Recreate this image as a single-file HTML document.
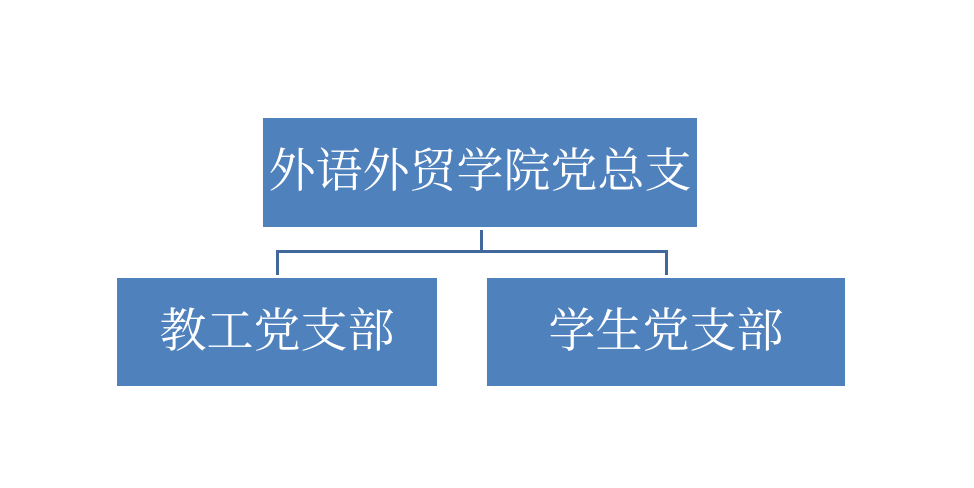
<!DOCTYPE html>
<html><head><meta charset="utf-8"><style>
html,body{margin:0;padding:0;background:#fff;width:974px;height:488px;overflow:hidden}
.b{position:absolute;background:#4F81BD;color:#fff;display:flex;align-items:center;justify-content:center;font-family:"Liberation Serif","Noto Serif CJK SC",serif;font-size:47px;line-height:1;white-space:nowrap}
.l{position:absolute;background:#41689A}
</style></head><body>
<div class="b" style="left:263px;top:118px;width:434px;height:109px;">外语外贸学院党总支</div>
<div class="b" style="left:117px;top:278px;width:320px;height:108px;">教工党支部</div>
<div class="b" style="left:487px;top:278px;width:358px;height:108px;">学生党支部</div>
<div class="l" style="left:480px;top:230px;width:3px;height:22px"></div>
<div class="l" style="left:276px;top:250px;width:392px;height:3px"></div>
<div class="l" style="left:276px;top:250px;width:3px;height:25px"></div>
<div class="l" style="left:665px;top:250px;width:3px;height:25px"></div>
</body></html>
